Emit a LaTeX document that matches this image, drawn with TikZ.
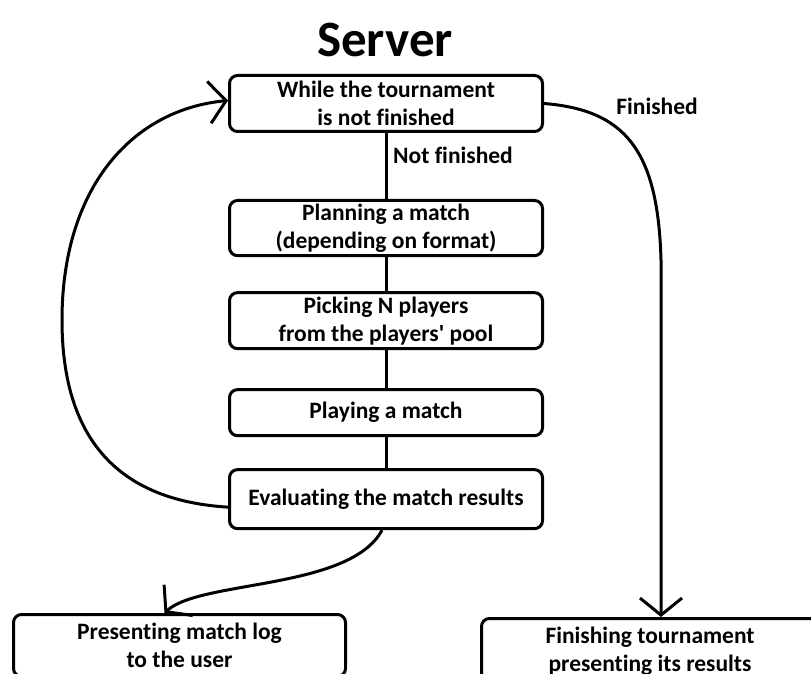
\documentclass[tikz,border=0pt]{standalone}
\usepackage{fontspec}
\setmainfont{Carlito}[Ligatures=NoCommon]
\usetikzlibrary{
  arrows.meta,
  positioning
}

\begin{document}
\begin{tikzpicture}[
  x=1pt, y=1pt,
  line width=3pt,
  >={Straight Barb[length=17pt,width=42pt]},
  box/.style={
    draw,
    rounded corners=8pt,
    minimum width=313pt,
    align=center,
    font=\fontsize{23.5}{28}\selectfont\bfseries
  },
  tag/.style={font=\fontsize{23.5}{28}\selectfont\bfseries}
]

\useasboundingbox (0,0) rectangle (811,673);

\node (title) at (385,633) {\fontsize{51}{60}\selectfont\bfseries Server};

\node [box, minimum height=56pt] (while-loop) at (386,569.5) {While the tournament\\is not finished};
\node [box, minimum height=55pt, below=66pt of while-loop] (plan-match) {Planning a match\\(depending on format)};
\node [box, minimum height=56pt, below=34pt of plan-match] (pick-players) {Picking N players\\from the players\textquotesingle{} pool};
\node [box, minimum height=46pt, below=38pt of pick-players] (play-match) {Playing a match};
\node [box, minimum height=59pt, below=31pt of play-match] (eval-results) {Evaluating the match results};

\node [box, minimum width=332pt, minimum height=62pt, anchor=north] (match-log) at (179.5,60) {Presenting match log\\to the user};
\node [box, minimum width=337pt, minimum height=66pt, anchor=north] (finish-tournament) at (650,56) {Finishing tournament\\presenting its results};

\node [tag] (not-finished-label) at (453,518) {Not finished};
\node [tag] (finished-label) at (657,567) {Finished};

% main chain
\draw (while-loop) -- (plan-match);
\draw (plan-match) -- (pick-players);
\draw (pick-players) -- (play-match);
\draw (play-match) -- (eval-results);

% back to the loop
\draw [->] ([yshift=-8pt]eval-results.west) .. controls (110,173) and (62,243) .. (62,353)
  .. controls (62,483) and (130,563) .. ([yshift=3pt]while-loop.west);

% finished branch
\coordinate (turn) at (661,413);
\draw [->] (while-loop.east) .. controls (625,563) and (658,523) .. (turn) -- (turn |- finish-tournament.north);

% log output
\draw [->] ([xshift=-4pt]eval-results.south) .. controls (350,83) and (200,93) .. ([xshift=-15pt]match-log.north);

\end{tikzpicture}
\end{document}
